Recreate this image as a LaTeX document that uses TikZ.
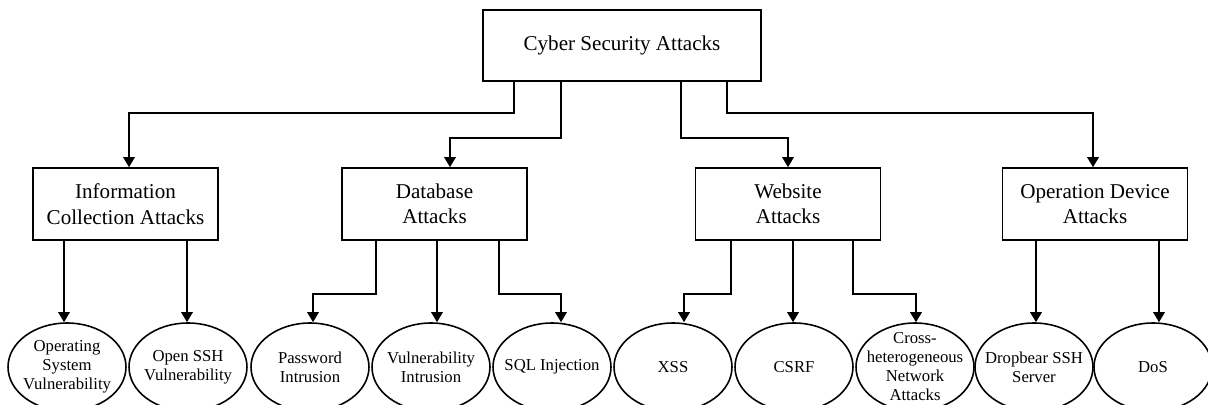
\documentclass[tikz,border=0pt]{standalone}
\usepackage{fontspec}
\setmainfont{Liberation Serif}
\usetikzlibrary{shapes.geometric,arrows.meta}

\begin{document}
\begin{tikzpicture}[x=0.02cm, y=-0.02cm,
    box/.style={draw, line width=0.9pt, align=center, inner sep=0pt,
        font=\fontsize{12}{14.5}\selectfont},
    catbox/.style={box, minimum width=3.7cm, minimum height=1.44cm},
    leaf/.style={draw, ellipse, line width=0.9pt, inner sep=0pt,
        minimum width=2.36cm, minimum height=1.76cm},
    leaftext/.style={align=center, inner sep=0pt,
        font=\fontsize{9.5}{10.8}\selectfont},
    arr/.style={line width=0.9pt, -{Triangle[length=2mm,width=2.3mm]}}]
    \useasboundingbox (0,0) rectangle (1208,405);
    % root and the four kinds of attack
    \node[box, minimum width=5.56cm, minimum height=1.42cm] (root) at (622,45.5) {Cyber Security Attacks};
    \node[catbox] (info) at (125.5,204) {Information\\Collection Attacks};
    \node[catbox] (db) at (434.5,204) {Database\\Attacks};
    \node[catbox] (web) at (788,204) {Website\\Attacks};
    \node[catbox] (op) at (1095,204) {Operation Device\\Attacks};
    % leaves
    \node[leaf, label={[leaftext]center:Operating\\System\\Vulnerability}] (os) at (67,367) {};
    \node[leaf, label={[leaftext]center:Open SSH\\Vulnerability}] (ssh) at (188,367) {};
    \node[leaf, label={[leaftext]center:Password\\Intrusion}] (pw) at (310,367) {};
    \node[leaf, label={[leaftext]center:Vulnerability\\Intrusion}] (vuln) at (431,367) {};
    \node[leaf, label={[leaftext]center:SQL Injection}] (sql) at (552,367) {};
    \node[leaf, label={[leaftext]center:XSS}] (xss) at (673,367) {};
    \node[leaf, label={[leaftext]center:CSRF}] (csrf) at (794,367) {};
    \node[leaf, label={[leaftext]center:Cross-\\heterogeneous\\Network\\Attacks}] (cross) at (915,367) {};
    \node[leaf, label={[leaftext]center:Dropbear SSH\\Server}] (drop) at (1034,367) {};
    \node[leaf, label={[leaftext]center:DoS}] (dos) at (1153,367) {};
    % root to kinds
    \draw[arr] ([xshift=-2.16cm]root.south) -- ++(0,31) -| ([xshift=0.07cm]info.north);
    \draw[arr] ([xshift=-1.22cm]root.south) -- ++(0,56) -| ([xshift=0.31cm]db.north);
    \draw[arr] ([xshift=1.18cm]root.south) -- ++(0,56) -| (web.north);
    \draw[arr] ([xshift=2.1cm]root.south) -- ++(0,31) -| ([xshift=-0.04cm]op.north);
    % kinds to leaves
    \draw[arr] ([xshift=-1.23cm]info.south) -- ([xshift=-0.06cm]os.north);
    \draw[arr] ([xshift=1.23cm]info.south) -- ([xshift=-0.02cm]ssh.north);
    \draw[arr] ([xshift=-1.17cm]db.south) -- ++(0,53) -| ([xshift=0.06cm]pw.north);
    \draw[arr] ([xshift=0.05cm]db.south) -- ([xshift=0.12cm]vuln.north);
    \draw[arr] ([xshift=1.29cm]db.south) -- ++(0,53) -| ([xshift=0.18cm]sql.north);
    \draw[arr] ([xshift=-1.14cm]web.south) -- ++(0,53) -| ([xshift=0.22cm]xss.north);
    \draw[arr] ([xshift=0.1cm]web.south) -- ([xshift=-0.02cm]csrf.north);
    \draw[arr] ([xshift=1.3cm]web.south) -- ++(0,53) -| ([xshift=0.02cm]cross.north);
    \draw[arr] ([xshift=-1.18cm]op.south) -- ([xshift=0.04cm]drop.north);
    \draw[arr] ([xshift=1.28cm]op.south) -- ([xshift=0.12cm]dos.north);
\end{tikzpicture}
\end{document}
